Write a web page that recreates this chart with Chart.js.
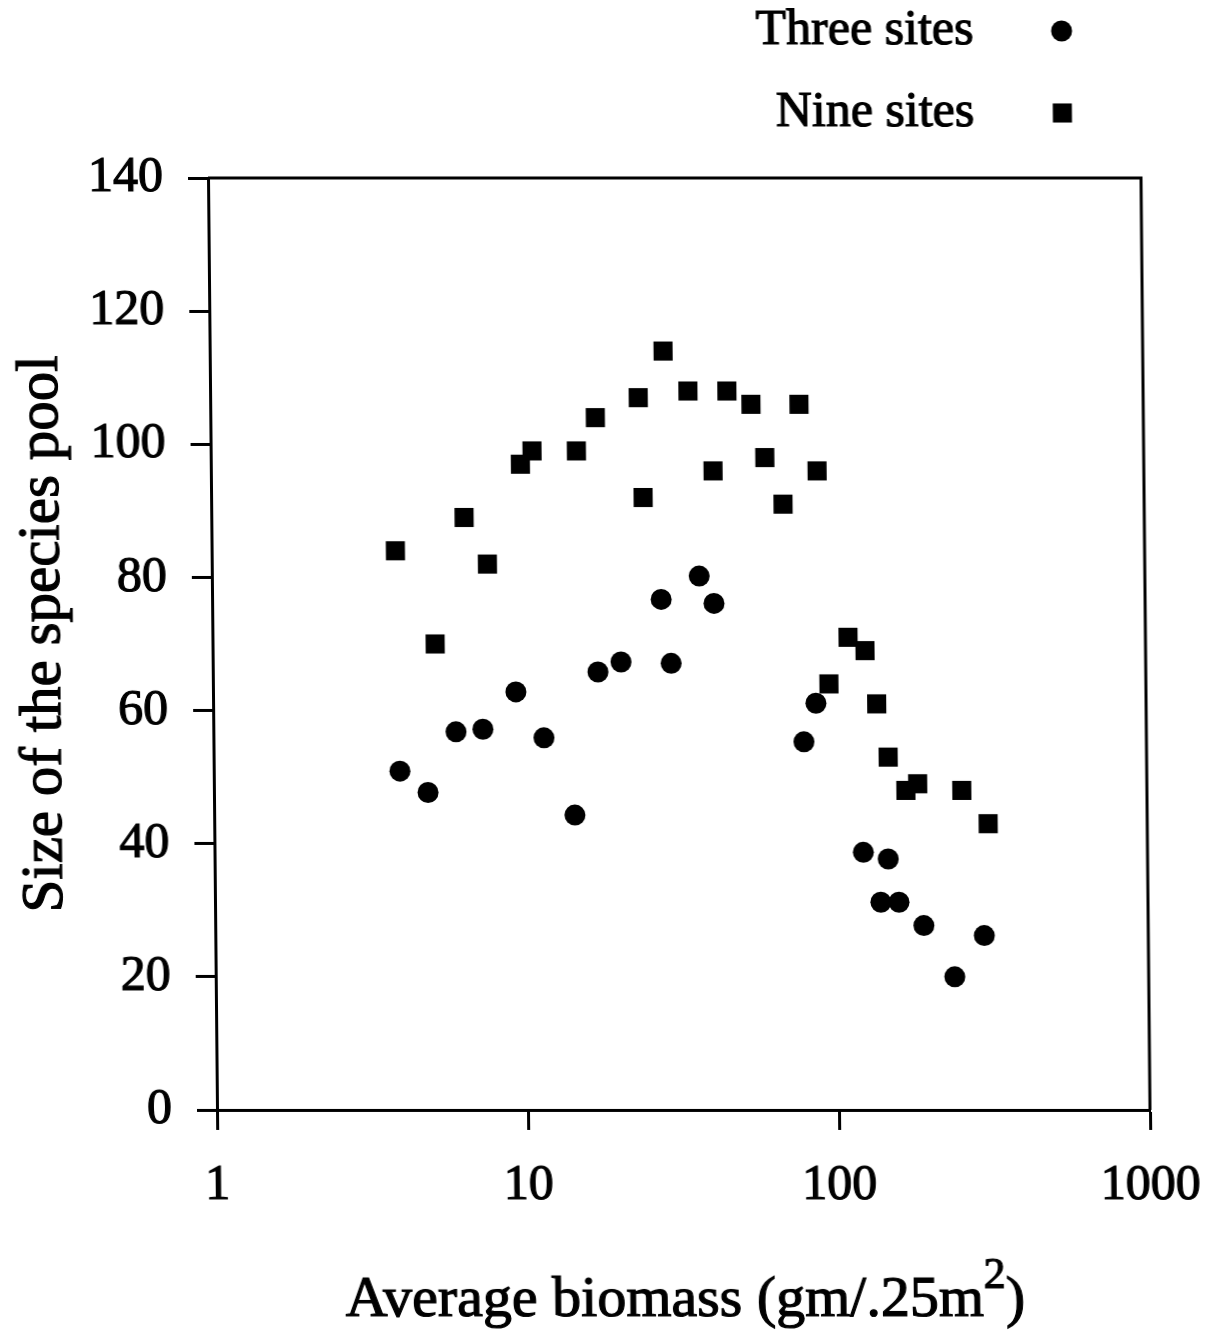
<!DOCTYPE html>
<html>
<head>
<meta charset="utf-8">
<script src="https://cdn.jsdelivr.net/npm/chart.js@4/dist/chart.umd.min.js"></script>
<style>
  html, body { margin: 0; padding: 0; background: #fff; overflow: hidden; }
  #wrap { width: 1217px; height: 1332px; position: relative; }
  /* slight slant of the whole figure, anchored on the x-axis line */
  canvas { display: block; transform: skewX(0.553deg); transform-origin: 0 1110px; }
</style>
</head>
<body>
<div id="wrap"><canvas id="chart" width="1217" height="1332"></canvas></div>
<script>
// Three-site pools: average biomass (gm/.25m2) and species pool size
const threeSitesBiomass = [3.97, 4.88, 6.03, 7.36, 9.42, 11.56, 14.46, 17.32, 20.56, 27.8, 29.8,
                           36.9, 41.1, 79.2, 86.8, 122, 146.6, 138.4, 158.3, 190, 238, 297];
const threeSitesPool    = [50.9, 47.7, 56.8, 57.2, 62.8, 55.9, 44.3, 65.8, 67.3, 76.7, 67.1,
                           80.2, 76.1, 55.3, 61.1, 38.7, 37.7, 31.2, 31.2, 27.7, 20.0, 26.2];

// Nine-site pools
const nineSitesBiomass = [3.9, 5.2, 6.5, 7.7, 9.9, 10.8, 15.0, 17.3, 23.8, 24.5, 28.7, 34.4, 41.2, 45.9,
                          54.8, 60.5, 69.0, 78.2, 89.0, 95.7, 110.6, 125.3, 136.1, 147.6, 167.9, 183.3, 254, 308];
const nineSitesPool    = [84, 70, 89, 82, 97, 99, 99, 104, 107, 92, 114, 108, 96, 108,
                          106, 98, 91, 106, 96, 64, 71, 69, 61, 53, 48, 49, 48, 43];

const seriesNames = ['Three sites', 'Nine sites'];
const xTickValues = [1, 10, 100, 1000];
const yTickValues = [0, 20, 40, 60, 80, 100, 120, 140];
const xAxisTitle = 'Average biomass (gm/.25m';
const xAxisTitleSup = '2';
const xAxisTitleEnd = ')';
const yAxisTitle = 'Size of the species pool';

const FONT = '"Liberation Serif", "Times New Roman", serif';
const INK = '#000';

const toPoints = (xs, ys) => xs.map((x, i) => ({ x: x, y: ys[i] }));

// Fill text with a thin outline so the serif strokes read a little heavier
function inkText(ctx, text, x, y) {
  ctx.fillText(text, x, y);
  ctx.strokeText(text, x, y);
}

// Box around the plotting area (top and right edges)
const frame = {
  id: 'frame',
  beforeDatasetsDraw(chart) {
    const { ctx, chartArea: a } = chart;
    ctx.save();
    ctx.strokeStyle = INK;
    ctx.lineWidth = 3;
    ctx.beginPath();
    ctx.moveTo(a.left, a.top);
    ctx.lineTo(a.right, a.top);
    ctx.lineTo(a.right, a.bottom);
    ctx.stroke();
    ctx.restore();
  }
};

// Legend in the top-right corner: label first, marker to its right
const sideLegend = {
  id: 'sideLegend',
  afterDraw(chart) {
    const ctx = chart.ctx;
    const rows = [
      { y: 31, ds: chart.data.datasets[0] },
      { y: 113, ds: chart.data.datasets[1] }
    ];
    ctx.save();
    ctx.font = '50px ' + FONT;
    ctx.fillStyle = INK;
    ctx.strokeStyle = INK;
    ctx.lineWidth = 1.2;
    ctx.textAlign = 'right';
    ctx.textBaseline = 'middle';
    rows.forEach(r => {
      inkText(ctx, r.ds.label, 984, r.y);
      Chart.helpers.drawPoint(ctx, {
        pointStyle: r.ds.pointStyle,
        radius: r.ds.pointRadius,
        borderWidth: 0,
        rotation: 0
      }, 1072, r.y);
    });
    ctx.restore();
  }
};

// Axis titles (x title carries a superscript)
const axisTitles = {
  id: 'axisTitles',
  afterDraw(chart) {
    const { ctx, chartArea: a } = chart;
    ctx.save();
    ctx.fillStyle = INK;
    ctx.strokeStyle = INK;
    ctx.lineWidth = 1.2;

    // y title
    ctx.font = '59px ' + FONT;
    ctx.textAlign = 'center';
    ctx.textBaseline = 'middle';
    ctx.translate(48, 634);
    ctx.rotate(-Math.PI / 2);
    inkText(ctx, yAxisTitle, 0, 0);
    ctx.setTransform(1, 0, 0, 1, 0, 0);

    // x title
    const mainFont = '58px ' + FONT;
    const supFont = '44px ' + FONT;
    ctx.textAlign = 'left';
    ctx.textBaseline = 'alphabetic';
    ctx.font = mainFont;
    const w1 = ctx.measureText(xAxisTitle).width;
    const w3 = ctx.measureText(xAxisTitleEnd).width;
    ctx.font = supFont;
    const w2 = ctx.measureText(xAxisTitleSup).width;
    const total = w1 + w2 + w3;
    const base = 1316;
    let x = (a.left + a.right) / 2 - total / 2;
    ctx.font = mainFont;
    inkText(ctx, xAxisTitle, x, base);
    x += w1;
    ctx.font = supFont;
    inkText(ctx, xAxisTitleSup, x, base - 28);
    x += w2;
    ctx.font = mainFont;
    inkText(ctx, xAxisTitleEnd, x, base);
    ctx.restore();
  }
};

new Chart(document.getElementById('chart'), {
  type: 'scatter',
  data: {
    datasets: [
      {
        label: seriesNames[0],
        data: toPoints(threeSitesBiomass, threeSitesPool),
        pointStyle: 'circle',
        pointRadius: 10.5,
        pointHoverRadius: 10.5,
        backgroundColor: INK,
        borderColor: INK,
        borderWidth: 0
      },
      {
        label: seriesNames[1],
        data: toPoints(nineSitesBiomass, nineSitesPool),
        pointStyle: 'rect',
        pointRadius: 13.5,
        pointHoverRadius: 13.5,
        backgroundColor: INK,
        borderColor: INK,
        borderWidth: 0
      }
    ]
  },
  options: {
    responsive: false,
    animation: false,
    devicePixelRatio: 1,
    events: [],
    layout: { padding: { top: 178, right: 67, bottom: 0, left: 0 } },
    plugins: {
      legend: { display: false },
      tooltip: { enabled: false },
      title: { display: false }
    },
    scales: {
      x: {
        type: 'logarithmic',
        min: 1,
        max: 1000,
        afterBuildTicks: s => { s.ticks = xTickValues.map(v => ({ value: v })); },
        afterFit: s => { s.height = 222; s.paddingLeft = 0; s.paddingRight = 0; },
        ticks: {
          callback: v => String(v),
          font: { family: FONT, size: 50 },
          color: INK,
          textStrokeColor: INK,
          textStrokeWidth: 1.2,
          padding: 26,
          maxRotation: 0,
          autoSkip: false
        },
        grid: { drawOnChartArea: false, drawTicks: true, tickLength: 20, tickWidth: 3, color: INK },
        border: { display: true, width: 3, color: INK }
      },
      y: {
        type: 'linear',
        min: 0,
        max: 140,
        afterBuildTicks: s => { s.ticks = yTickValues.map(v => ({ value: v })); },
        afterFit: s => { s.width = 217; s.paddingTop = 0; s.paddingBottom = 0; },
        ticks: {
          font: { family: FONT, size: 50 },
          color: INK,
          textStrokeColor: INK,
          textStrokeWidth: 1.2,
          padding: 25
        },
        grid: { drawOnChartArea: false, drawTicks: true, tickLength: 20, tickWidth: 3, color: INK },
        border: { display: true, width: 3, color: INK }
      }
    }
  },
  plugins: [frame, sideLegend, axisTitles]
});
</script>
</body>
</html>
